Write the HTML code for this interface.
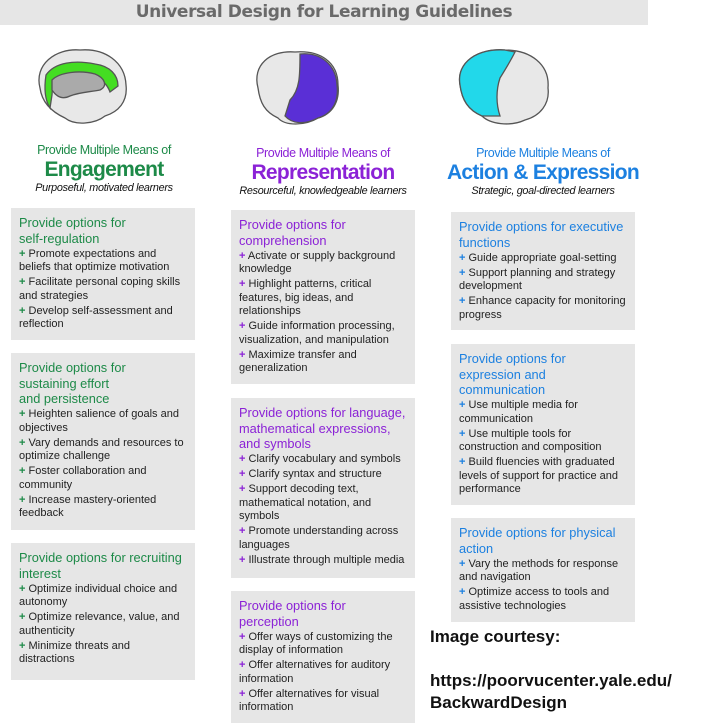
<!DOCTYPE html>
<html><head><meta charset="utf-8"><style>
*{margin:0;padding:0;box-sizing:border-box}
body{width:728px;height:723px;background:#fff;position:relative;overflow:hidden;font-family:"Liberation Sans",Arial,sans-serif}
.title{position:absolute;left:0;top:0;width:648px;height:25px;background:#e6e6e6;color:#6a6a6a;font-family:"DejaVu Sans",sans-serif;font-weight:bold;font-size:17px;line-height:25px;text-align:center;letter-spacing:-0.4px}
.hd{position:absolute;text-align:center;width:200px}
.hd .a{font-size:12.5px;line-height:14px;letter-spacing:-0.4px}
.hd .b{font-size:21px;font-weight:bold;line-height:25px;letter-spacing:-0.7px}
.hd .c{font-size:10.8px;font-style:italic;color:#111;line-height:13px;letter-spacing:-0.3px}
.box{position:absolute;width:184px;background:#e6e6e6;padding:7px 4px 0 8px;white-space:nowrap}
.box h3{font-weight:normal;font-size:12.8px;line-height:15.5px}
.box p{font-size:11px;line-height:13.5px;color:#222;margin-top:1.5px}
.box p b{font-weight:bold}
.g{color:#1d8a48}.p{color:#8b22d6}.bl{color:#1c80e0}
.court{position:absolute;left:430px;font-weight:bold;font-size:17px;color:#111;font-family:"Liberation Sans",sans-serif}
</style></head><body>
<div class="title">Universal Design for Learning Guidelines</div>

<svg width="728" height="140" style="position:absolute;left:0;top:0">
 <g stroke="#555" stroke-width="1.3">
  <path d="M40 88 C34 65 55 48 80 50 C105 48 125 62 126 85 C128 102 118 112 105 116 C95 124 75 126 65 118 C52 112 42 103 40 88Z" fill="#e8e8e8"/>
  <path d="M46 75 C55 62 75 60 95 64 C110 66 118 75 118 86 L110 92 C105 78 90 72 70 74 C58 76 52 84 52 95 L50 108 C45 100 44 88 46 75Z" fill="#44dd22"/>
  <path d="M52 80 C60 72 80 70 95 74 C105 78 108 86 100 90 C90 92 80 92 70 96 C62 100 56 96 52 90Z" fill="#aaa"/>
 </g>
 <g stroke="#555" stroke-width="1.3">
  <path d="M258 88 C252 65 270 50 295 52 C320 50 338 62 338 85 C340 102 332 114 318 118 C305 126 285 126 278 118 C265 112 260 103 258 88Z" fill="#e8e8e8"/>
  <path d="M300 54 C320 52 336 64 337 85 C339 102 332 114 318 118 C305 125 292 124 285 116 L290 100 C300 90 300 75 300 54Z" fill="#5a2fd6"/>
 </g>
 <g stroke="#555" stroke-width="1.3">
  <path d="M460 85 C456 62 478 48 505 50 C530 50 550 64 548 88 C550 104 540 116 525 120 C510 127 490 124 482 116 C468 110 462 100 460 85Z" fill="#e8e8e8"/>
  <path d="M460 85 C456 62 478 48 505 50 L515 52 C510 62 505 70 500 78 C496 90 496 104 500 116 L482 116 C468 110 462 100 460 85Z" fill="#22d8ea"/>
 </g>
</svg>

<div class="hd" style="left:4px;top:143px"><div class="a g">Provide Multiple Means of</div><div class="b g">Engagement</div><div class="c">Purposeful, motivated learners</div></div>
<div class="hd" style="left:223px;top:146px"><div class="a p">Provide Multiple Means of</div><div class="b p">Representation</div><div class="c">Resourceful, knowledgeable learners</div></div>
<div class="hd" style="left:443px;top:146px"><div class="a bl">Provide Multiple Means of</div><div class="b bl">Action &amp; Expression</div><div class="c">Strategic, goal-directed learners</div></div>

<div class="box" style="left:11px;top:208px;height:132px"><h3 class="g">Provide options for<br>self-regulation</h3>
<p><b class="g">+</b> Promote expectations and<br>beliefs that optimize motivation</p>
<p><b class="g">+</b> Facilitate personal coping skills<br>and strategies</p>
<p><b class="g">+</b> Develop self-assessment and<br>reflection</p></div>

<div class="box" style="left:11px;top:353px;height:177px"><h3 class="g">Provide options for<br>sustaining effort<br>and persistence</h3>
<p><b class="g">+</b> Heighten salience of goals and<br>objectives</p>
<p><b class="g">+</b> Vary demands and resources to<br>optimize challenge</p>
<p><b class="g">+</b> Foster collaboration and<br>community</p>
<p><b class="g">+</b> Increase mastery-oriented<br>feedback</p></div>

<div class="box" style="left:11px;top:543px;height:137px"><h3 class="g">Provide options for recruiting<br>interest</h3>
<p><b class="g">+</b> Optimize individual choice and<br>autonomy</p>
<p><b class="g">+</b> Optimize relevance, value, and<br>authenticity</p>
<p><b class="g">+</b> Minimize threats and<br>distractions</p></div>

<div class="box" style="left:231px;top:210px;height:174px"><h3 class="p">Provide options for<br>comprehension</h3>
<p><b class="p">+</b> Activate or supply background<br>knowledge</p>
<p><b class="p">+</b> Highlight patterns, critical<br>features, big ideas, and<br>relationships</p>
<p><b class="p">+</b> Guide information processing,<br>visualization, and manipulation</p>
<p><b class="p">+</b> Maximize transfer and<br>generalization</p></div>

<div class="box" style="left:231px;top:398px;height:180px"><h3 class="p">Provide options for language,<br>mathematical expressions,<br>and symbols</h3>
<p><b class="p">+</b> Clarify vocabulary and symbols</p>
<p><b class="p">+</b> Clarify syntax and structure</p>
<p><b class="p">+</b> Support decoding text,<br>mathematical notation, and<br>symbols</p>
<p><b class="p">+</b> Promote understanding across<br>languages</p>
<p><b class="p">+</b> Illustrate through multiple media</p></div>

<div class="box" style="left:231px;top:591px;height:132px"><h3 class="p">Provide options for<br>perception</h3>
<p><b class="p">+</b> Offer ways of customizing the<br>display of information</p>
<p><b class="p">+</b> Offer alternatives for auditory<br>information</p>
<p><b class="p">+</b> Offer alternatives for visual<br>information</p></div>

<div class="box" style="left:451px;top:212px;height:118px"><h3 class="bl">Provide options for executive<br>functions</h3>
<p><b class="bl">+</b> Guide appropriate goal-setting</p>
<p><b class="bl">+</b> Support planning and strategy<br>development</p>
<p><b class="bl">+</b> Enhance capacity for monitoring<br>progress</p></div>

<div class="box" style="left:451px;top:344px;height:161px"><h3 class="bl">Provide options for<br>expression and<br>communication</h3>
<p><b class="bl">+</b> Use multiple media for<br>communication</p>
<p><b class="bl">+</b> Use multiple tools for<br>construction and composition</p>
<p><b class="bl">+</b> Build fluencies with graduated<br>levels of support for practice and<br>performance</p></div>

<div class="box" style="left:451px;top:518px;height:104px"><h3 class="bl">Provide options for physical<br>action</h3>
<p><b class="bl">+</b> Vary the methods for response<br>and navigation</p>
<p><b class="bl">+</b> Optimize access to tools and<br>assistive technologies</p></div>

<div class="court" style="top:627px">Image courtesy:</div>
<div class="court" style="top:671px">https://poorvucenter.yale.edu/</div>
<div class="court" style="top:693px">BackwardDesign</div>
</body></html>
